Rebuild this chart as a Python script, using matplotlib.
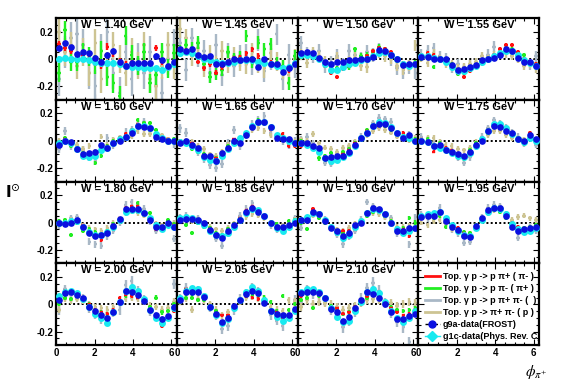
import numpy as np
import matplotlib
matplotlib.use('Agg')
from matplotlib import pyplot as plt
from matplotlib.lines import Line2D
from matplotlib.ticker import MultipleLocator

plt.rcParams['font.family'] = ['Liberation Sans', 'DejaVu Sans']

W_values = [1.40, 1.45, 1.50, 1.55, 1.60, 1.65, 1.70, 1.75,
            1.80, 1.85, 1.90, 1.95, 2.00, 2.05, 2.10]
n_bins = 20
phi = (np.arange(n_bins) + 0.5) * 2 * np.pi / n_bins  # bin centres

# g9a-data (FROST), blue
g9a = [
    [0.08, 0.12, 0.085, 0.035, 0.05, 0.04, 0.01, -0.02, 0.03, 0.06, -0.02, -0.05, -0.03, -0.03, -0.03, -0.03, 0.02, -0.01, -0.055, -0.02],
    [0.07, 0.055, 0.07, 0.03, 0.015, 0.02, -0.04, -0.035, -0.02, 0.0, -0.01, 0.0, 0.0, -0.06, 0.0, -0.035, -0.035, -0.095, -0.07, -0.04],
    [0.045, 0.05, 0.045, 0.007, -0.02, -0.035, -0.02, -0.02, -0.01, -0.01, 0.0, 0.0, 0.015, 0.065, 0.055, 0.03, 0.0, -0.045, -0.04, -0.04],
    [0.015, 0.015, 0.0, 0.0, 0.0, -0.045, -0.08, -0.075, -0.06, -0.045, -0.01, 0.0, 0.005, 0.03, 0.075, 0.055, 0.007, -0.02, -0.02, -0.05],
    [-0.03, 0.0, -0.01, -0.06, -0.1, -0.09, -0.08, -0.03, -0.055, -0.02, 0.0, 0.025, 0.055, 0.11, 0.1, 0.09, 0.03, 0.015, 0.0, 0.0],
    [-0.015, 0.0, -0.03, -0.055, -0.11, -0.115, -0.15, -0.09, -0.055, 0.0, -0.015, 0.045, 0.1, 0.14, 0.135, 0.1, 0.02, 0.015, 0.015, -0.02],
    [-0.02, -0.02, -0.035, -0.055, -0.125, -0.12, -0.115, -0.11, -0.085, -0.03, 0.02, 0.055, 0.105, 0.12, 0.125, 0.095, 0.06, 0.02, 0.04, 0.0],
    [0.0, -0.01, -0.04, -0.03, -0.065, -0.08, -0.1, -0.115, -0.08, -0.03, 0.0, 0.07, 0.11, 0.1, 0.075, 0.055, 0.01, 0.0, 0.04, 0.01],
    [0.0, -0.01, 0.0, 0.015, -0.03, -0.075, -0.1, -0.09, -0.075, -0.025, 0.025, 0.1, 0.1, 0.1, 0.07, 0.02, -0.03, -0.035, 0.0, -0.03],
    [0.02, 0.025, 0.025, 0.02, 0.0, -0.055, -0.09, -0.11, -0.06, -0.015, 0.02, 0.08, 0.11, 0.08, 0.045, 0.0, -0.035, -0.035, -0.015, 0.0],
    [0.02, 0.02, 0.08, 0.065, 0.01, -0.04, -0.065, -0.1, -0.075, -0.015, 0.0, 0.07, 0.11, 0.1, 0.065, 0.0, -0.065, -0.06, -0.04, -0.04],
    [0.04, 0.045, 0.045, 0.08, 0.01, -0.03, -0.055, -0.1, -0.105, -0.025, 0.03, 0.09, 0.11, 0.105, 0.045, -0.035, -0.065, -0.045, -0.04, -0.035],
    [0.03, 0.08, 0.09, 0.07, 0.05, -0.02, -0.05, -0.075, -0.1, -0.055, 0.02, 0.1, 0.09, 0.07, 0.025, -0.045, -0.075, -0.11, -0.085, -0.02],
    [0.035, 0.09, 0.09, 0.09, 0.055, -0.02, -0.07, -0.13, -0.1, -0.01, 0.035, 0.075, 0.1, 0.08, 0.01, -0.05, -0.07, -0.075, -0.08, -0.035],
    [0.08, 0.09, 0.09, 0.085, 0.045, -0.035, -0.06, -0.12, -0.095, -0.025, 0.03, 0.09, 0.075, 0.045, 0.0, -0.06, -0.11, -0.11, -0.085, -0.07],
]

# g1c-data, cyan
g1c = [
    [0.0, 0.01, 0.0, 0.0, 0.0, -0.01, -0.02, -0.03, -0.03, -0.03, -0.04, -0.05, -0.06, -0.06, -0.07, -0.07, -0.07, -0.08, -0.06, -0.04],
    [0.04, 0.05, 0.04, 0.02, 0.0, -0.01, -0.02, -0.03, -0.03, -0.02, -0.01, -0.01, -0.01, -0.02, -0.03, -0.04, -0.05, -0.07, -0.06, -0.03],
    [0.03, 0.03, 0.02, 0.0, -0.04, -0.08, -0.08, -0.06, -0.04, -0.03, -0.01, 0.0, 0.02, 0.04, 0.05, 0.03, 0.0, -0.04, -0.05, -0.04],
    [0.02, 0.02, 0.01, 0.0, -0.02, -0.06, -0.09, -0.09, -0.07, -0.05, -0.02, 0.0, 0.02, 0.04, 0.06, 0.06, 0.03, -0.01, -0.03, -0.05],
    [-0.02, 0.0, -0.02, -0.06, -0.11, -0.12, -0.11, -0.07, -0.05, -0.02, 0.01, 0.03, 0.07, 0.11, 0.11, 0.09, 0.05, 0.02, 0.0, 0.0],
    [-0.01, -0.02, -0.04, -0.07, -0.12, -0.14, -0.15, -0.11, -0.06, -0.02, 0.02, 0.06, 0.11, 0.14, 0.14, 0.10, 0.04, 0.02, 0.0, -0.02],
    [-0.02, -0.03, -0.05, -0.08, -0.13, -0.15, -0.14, -0.12, -0.09, -0.04, 0.02, 0.06, 0.11, 0.14, 0.13, 0.10, 0.06, 0.03, 0.02, 0.0],
    [0.0, -0.01, -0.04, -0.05, -0.07, -0.09, -0.11, -0.12, -0.09, -0.04, 0.01, 0.07, 0.12, 0.12, 0.09, 0.05, 0.01, -0.01, 0.02, 0.0],
    [0.0, 0.0, 0.01, 0.01, -0.03, -0.07, -0.09, -0.09, -0.07, -0.03, 0.02, 0.08, 0.09, 0.09, 0.07, 0.03, -0.02, -0.05, -0.02, -0.03],
    [0.03, 0.04, 0.03, 0.01, -0.02, -0.06, -0.09, -0.10, -0.08, -0.03, 0.02, 0.07, 0.10, 0.09, 0.05, 0.0, -0.04, -0.06, -0.03, 0.01],
    [0.02, 0.04, 0.07, 0.06, 0.02, -0.03, -0.07, -0.11, -0.09, -0.03, 0.01, 0.07, 0.10, 0.09, 0.06, 0.0, -0.05, -0.08, -0.06, -0.04],
    [0.05, 0.06, 0.07, 0.08, 0.03, -0.02, -0.06, -0.09, -0.10, -0.04, 0.02, 0.08, 0.11, 0.10, 0.06, -0.01, -0.05, -0.07, -0.06, -0.04],
    [0.06, 0.09, 0.10, 0.08, 0.04, -0.02, -0.07, -0.10, -0.14, -0.06, 0.02, 0.10, 0.13, 0.10, 0.04, -0.04, -0.10, -0.14, -0.10, -0.03],
    [0.05, 0.10, 0.12, 0.11, 0.06, -0.02, -0.08, -0.14, -0.11, -0.03, 0.03, 0.09, 0.13, 0.10, 0.03, -0.05, -0.09, -0.12, -0.10, -0.05],
    [0.09, 0.11, 0.11, 0.09, 0.05, -0.03, -0.09, -0.13, -0.12, -0.05, 0.02, 0.09, 0.11, 0.08, 0.02, -0.05, -0.10, -0.13, -0.10, -0.05],
]

# Top. gamma p -> p pi+ (pi-), red
top_pip = [
    [0.11, 0.08, 0.06, 0.02, 0.03, 0.0, -0.03, -0.05, 0.09, 0.04, -0.02, -0.04, -0.03, -0.04, -0.03, -0.04, 0.08, -0.02, -0.06, -0.03],
    [0.05, 0.06, 0.04, -0.02, -0.07, -0.04, -0.10, -0.06, -0.03, 0.0, 0.01, 0.04, 0.07, 0.02, -0.01, -0.03, -0.05, -0.09, -0.08, -0.03],
    [0.03, 0.03, 0.02, -0.01, -0.05, -0.10, -0.13, -0.07, -0.05, -0.02, 0.0, 0.02, 0.06, 0.08, 0.07, 0.05, 0.0, -0.03, -0.04, -0.03],
    [0.03, 0.04, 0.03, 0.01, -0.02, -0.05, -0.10, -0.13, -0.09, -0.06, -0.02, 0.01, 0.03, 0.07, 0.10, 0.10, 0.05, 0.0, -0.03, -0.04],
    [-0.02, 0.01, -0.03, -0.07, -0.10, -0.11, -0.10, -0.05, -0.04, -0.01, 0.02, 0.05, 0.08, 0.12, 0.11, 0.09, 0.04, 0.02, 0.01, 0.0],
    [0.0, -0.01, -0.02, -0.05, -0.12, -0.12, -0.13, -0.10, -0.05, 0.01, 0.0, 0.05, 0.11, 0.13, 0.12, 0.08, 0.03, 0.05, -0.04, -0.04],
    [-0.04, -0.04, -0.06, -0.05, -0.12, -0.14, -0.12, -0.10, -0.07, -0.02, 0.01, 0.07, 0.10, 0.11, 0.11, 0.10, 0.05, 0.06, 0.03, -0.01],
    [0.01, 0.0, -0.08, -0.03, -0.05, -0.07, -0.10, -0.12, -0.08, -0.03, 0.01, 0.08, 0.11, 0.10, 0.08, 0.05, 0.01, -0.01, 0.06, 0.0],
    [0.0, -0.02, 0.01, 0.02, -0.02, -0.08, -0.09, -0.13, -0.07, -0.02, 0.03, 0.11, 0.12, 0.12, 0.06, 0.01, -0.05, -0.04, 0.0, -0.02],
    [0.02, 0.03, 0.02, 0.02, -0.01, -0.05, -0.09, -0.10, -0.06, -0.04, 0.03, 0.09, 0.12, 0.09, 0.05, 0.0, -0.04, -0.03, -0.02, 0.0],
    [0.01, 0.03, 0.10, 0.07, 0.01, -0.05, -0.08, -0.06, -0.06, -0.02, 0.01, 0.06, 0.09, 0.10, 0.05, 0.0, -0.06, -0.05, -0.10, -0.04],
    [0.04, 0.05, 0.06, 0.07, 0.03, -0.02, -0.04, -0.08, -0.09, -0.03, 0.02, 0.08, 0.10, 0.09, 0.05, 0.0, -0.03, -0.07, -0.05, -0.04],
    [0.04, 0.10, 0.10, 0.08, 0.05, 0.0, -0.04, -0.06, -0.07, -0.04, 0.05, 0.07, 0.06, 0.05, 0.02, -0.05, -0.09, -0.16, -0.10, -0.05],
    [0.05, 0.11, 0.10, 0.08, 0.05, -0.01, -0.07, -0.08, -0.08, -0.02, 0.03, 0.06, 0.05, 0.04, 0.0, -0.05, -0.06, -0.10, -0.11, -0.03],
    [0.06, 0.11, 0.10, 0.09, 0.04, -0.02, -0.03, -0.07, -0.06, -0.02, 0.02, 0.06, 0.08, 0.06, 0.02, -0.03, -0.06, -0.08, -0.07, -0.04],
]

# Top. gamma p -> p pi- (pi+), green
top_pim = [
    [-0.10, 0.21, -0.02, -0.02, 0.05, 0.02, -0.04, 0.06, -0.13, -0.18, -0.27, 0.17, 0.03, -0.05, 0.05, -0.18, -0.12, 0.05, -0.07, 0.04],
    [0.06, 0.10, 0.08, 0.12, -0.04, -0.13, -0.11, -0.08, 0.05, 0.0, 0.01, 0.17, -0.02, 0.12, 0.07, 0.11, -0.03, -0.05, -0.18, 0.02],
    [0.02, 0.04, 0.03, 0.0, -0.03, -0.06, -0.07, -0.05, -0.06, 0.07, 0.02, 0.03, 0.05, 0.09, 0.07, 0.02, -0.01, -0.05, -0.04, -0.03],
    [0.0, 0.03, -0.06, 0.01, -0.03, -0.04, -0.11, -0.10, -0.06, -0.05, -0.02, 0.0, 0.02, 0.04, 0.08, 0.07, 0.04, 0.03, -0.02, -0.04],
    [-0.03, 0.02, -0.04, -0.05, -0.09, -0.12, -0.16, -0.11, -0.04, 0.0, 0.02, 0.04, 0.06, 0.15, 0.13, 0.13, 0.08, 0.02, -0.01, 0.01],
    [0.0, -0.02, -0.06, -0.08, -0.10, -0.14, -0.13, -0.12, -0.04, -0.01, 0.0, 0.05, 0.10, 0.15, 0.14, 0.10, 0.02, 0.03, 0.01, -0.03],
    [0.0, -0.02, -0.04, -0.13, -0.11, -0.09, -0.11, -0.08, -0.06, -0.02, 0.02, 0.08, 0.10, 0.12, 0.11, 0.08, 0.05, 0.04, 0.02, 0.01],
    [0.0, 0.01, -0.03, -0.02, -0.06, -0.08, -0.10, -0.13, -0.07, -0.02, 0.0, 0.06, 0.12, 0.12, 0.09, 0.05, 0.02, -0.02, 0.03, 0.01],
    [0.01, 0.02, -0.09, 0.0, -0.06, -0.05, -0.07, -0.09, -0.06, -0.01, 0.02, 0.09, 0.11, 0.14, 0.07, 0.07, -0.02, -0.03, 0.02, -0.01],
    [0.01, -0.02, -0.08, 0.0, -0.03, -0.04, -0.08, -0.09, -0.05, -0.01, 0.02, 0.06, 0.09, 0.08, 0.04, 0.0, -0.01, -0.03, 0.01, 0.02],
    [0.0, -0.05, 0.06, 0.03, 0.0, -0.05, -0.07, -0.08, -0.06, -0.02, 0.01, 0.05, 0.08, 0.09, 0.05, 0.01, -0.05, -0.04, 0.03, 0.0],
    [0.03, 0.04, 0.03, 0.05, -0.03, -0.03, -0.05, -0.07, -0.08, -0.02, 0.02, 0.07, 0.09, 0.08, 0.03, -0.01, -0.04, -0.04, -0.03, -0.02],
    [0.0, 0.05, 0.04, 0.06, 0.03, 0.0, -0.04, -0.06, -0.07, -0.05, 0.01, 0.06, 0.08, 0.06, 0.03, -0.02, 0.05, -0.06, -0.05, 0.0],
    [0.02, 0.05, 0.05, 0.03, 0.03, -0.01, -0.05, -0.14, -0.09, -0.02, 0.03, 0.06, 0.07, 0.06, 0.05, 0.02, -0.05, 0.06, -0.04, 0.0],
    [0.03, 0.05, -0.03, 0.06, 0.04, -0.01, -0.04, -0.07, -0.06, -0.02, 0.02, 0.05, 0.07, 0.05, 0.02, -0.02, -0.04, -0.05, -0.04, -0.03],
]

# Top. gamma p -> p pi+ pi- ( ), grey
top_ppp = [
    [-0.15, 0.05, 0.15, 0.18, 0.10, -0.10, -0.20, 0.06, 0.20, -0.10, -0.25, 0.05, -0.15, 0.0, -0.10, 0.05, -0.20, -0.25, 0.0, 0.10],
    [0.12, -0.08, 0.15, 0.02, 0.06, -0.10, 0.10, -0.12, 0.04, -0.05, 0.02, 0.03, -0.04, 0.14, -0.09, 0.0, 0.18, -0.15, 0.03, -0.06],
    [0.12, 0.04, 0.02, 0.06, -0.05, -0.03, 0.02, -0.04, 0.06, 0.03, 0.0, 0.05, 0.03, 0.07, 0.04, 0.0, -0.07, -0.10, -0.06, -0.10],
    [0.03, 0.06, 0.08, 0.02, 0.0, -0.06, -0.04, -0.08, -0.05, -0.03, -0.01, 0.03, 0.09, 0.05, 0.07, 0.04, 0.02, 0.0, -0.04, 0.02],
    [-0.06, 0.07, -0.04, -0.05, -0.07, -0.12, -0.15, -0.08, 0.02, -0.03, 0.01, 0.06, 0.08, 0.12, 0.14, 0.07, 0.03, 0.02, 0.0, -0.02],
    [0.09, 0.06, -0.04, -0.08, -0.13, -0.18, -0.20, -0.17, -0.02, 0.08, -0.04, 0.04, 0.12, 0.15, 0.18, 0.06, 0.02, 0.0, -0.03, 0.0],
    [0.01, 0.03, -0.02, -0.06, -0.16, -0.17, -0.10, -0.08, -0.05, -0.02, 0.03, 0.06, 0.13, 0.17, 0.16, 0.14, 0.05, 0.02, 0.05, 0.0],
    [0.03, 0.01, -0.02, -0.05, -0.06, -0.09, -0.12, -0.16, -0.12, -0.04, 0.03, 0.09, 0.15, 0.13, 0.10, 0.06, 0.03, -0.02, 0.05, -0.03],
    [-0.02, 0.0, 0.03, 0.04, -0.04, -0.14, -0.16, -0.17, -0.10, -0.06, 0.0, 0.13, 0.15, 0.13, 0.10, 0.01, -0.06, -0.04, 0.0, -0.12],
    [0.04, 0.05, 0.02, 0.03, -0.01, -0.06, -0.12, -0.17, -0.08, -0.03, 0.05, 0.10, 0.14, 0.07, 0.04, -0.02, -0.05, -0.04, -0.01, 0.03],
    [-0.04, 0.03, 0.09, 0.06, 0.02, -0.04, -0.09, -0.16, -0.10, -0.06, 0.02, 0.15, 0.12, 0.08, 0.04, 0.03, -0.08, -0.06, -0.16, 0.04],
    [0.06, 0.03, 0.05, 0.11, 0.0, -0.05, -0.08, -0.15, -0.14, -0.04, 0.04, 0.11, 0.13, 0.12, 0.06, -0.01, -0.11, -0.05, -0.03, -0.06],
    [-0.04, 0.11, 0.07, 0.06, 0.04, -0.03, -0.07, -0.11, -0.09, -0.06, -0.04, 0.14, 0.17, 0.10, 0.03, -0.05, -0.09, -0.12, -0.08, 0.15],
    [0.04, 0.12, 0.09, 0.10, 0.05, -0.02, -0.08, -0.18, -0.16, -0.04, 0.04, 0.08, 0.12, 0.09, 0.03, -0.08, -0.12, -0.16, -0.09, 0.03],
    [0.02, 0.10, 0.08, 0.07, 0.03, -0.04, -0.07, -0.17, -0.12, -0.05, 0.04, 0.12, 0.16, 0.10, 0.01, -0.06, -0.13, -0.17, -0.28, -0.05],
]

# Top. gamma p -> pi+ pi- (p), tan
top_pp = [
    [0.20, 0.05, 0.10, -0.05, 0.05, -0.10, 0.12, -0.15, -0.05, 0.10, 0.0, -0.10, 0.05, -0.05, 0.10, -0.15, -0.20, -0.05, 0.10, -0.05],
    [0.22, 0.15, 0.02, 0.08, -0.06, 0.03, -0.05, 0.06, -0.03, 0.02, -0.02, -0.04, 0.05, -0.03, -0.07, 0.04, -0.02, -0.08, -0.12, 0.0],
    [0.03, -0.03, 0.05, 0.02, -0.02, -0.06, 0.01, -0.04, -0.02, 0.01, -0.05, -0.06, 0.03, 0.05, 0.02, 0.0, -0.05, -0.08, -0.05, 0.10],
    [0.01, -0.03, 0.04, 0.0, -0.04, -0.04, -0.07, -0.06, -0.04, -0.02, 0.02, 0.0, 0.03, 0.05, 0.04, 0.02, 0.0, -0.05, -0.04, -0.07],
    [0.0, 0.01, -0.02, -0.03, -0.06, -0.04, -0.08, 0.03, -0.03, 0.01, 0.02, 0.04, 0.03, 0.07, 0.05, 0.05, 0.03, 0.04, 0.01, 0.0],
    [-0.02, 0.0, -0.01, -0.04, -0.06, -0.10, -0.11, -0.08, -0.03, -0.02, 0.0, 0.04, 0.08, 0.09, 0.07, 0.04, 0.02, 0.01, 0.0, -0.01],
    [0.01, 0.0, 0.05, -0.02, -0.05, -0.06, -0.08, -0.05, -0.04, -0.01, 0.01, 0.04, 0.07, 0.09, 0.08, 0.06, 0.03, 0.01, 0.0, 0.02],
    [0.0, 0.02, 0.02, -0.01, -0.03, -0.04, -0.06, -0.07, -0.05, -0.01, 0.01, 0.04, 0.07, 0.07, 0.04, 0.02, 0.0, 0.01, 0.02, 0.0],
    [0.0, 0.01, 0.02, 0.01, -0.02, -0.04, -0.05, -0.06, -0.04, 0.0, 0.02, 0.07, 0.08, 0.07, 0.05, 0.02, -0.01, -0.02, 0.0, 0.0],
    [0.02, 0.03, 0.01, 0.0, 0.0, -0.03, -0.05, -0.06, -0.04, -0.01, 0.01, 0.04, 0.06, 0.05, 0.03, 0.0, -0.02, -0.02, 0.0, 0.02],
    [0.01, 0.02, 0.05, 0.04, 0.01, -0.03, -0.05, -0.06, -0.04, -0.01, 0.01, 0.05, 0.07, 0.06, 0.04, 0.01, -0.03, -0.03, -0.02, 0.0],
    [0.0, -0.02, 0.01, 0.02, -0.01, -0.05, -0.06, -0.09, -0.08, -0.02, 0.03, 0.07, 0.09, 0.08, 0.04, 0.02, 0.04, 0.05, 0.03, 0.02],
    [-0.04, 0.04, 0.03, 0.04, 0.03, 0.0, -0.02, -0.03, -0.04, -0.02, 0.01, 0.04, 0.05, 0.04, 0.02, -0.01, -0.02, -0.04, -0.03, 0.02],
    [0.02, 0.04, -0.04, 0.04, 0.03, 0.0, -0.04, -0.08, -0.06, -0.02, 0.02, 0.05, 0.06, 0.04, 0.01, -0.02, -0.04, -0.05, 0.03, 0.02],
    [-0.02, 0.03, 0.0, 0.02, 0.01, 0.0, -0.02, -0.04, -0.03, -0.01, 0.01, 0.03, 0.04, 0.03, 0.01, 0.01, -0.01, 0.0, 0.02, 0.01],
]

# typical error bar size per panel
err_red = [0.025, 0.02, 0.015, 0.015, 0.012, 0.012, 0.012, 0.012, 0.012, 0.012, 0.012, 0.012, 0.012, 0.012, 0.012]
err_green = [0.07, 0.045, 0.02, 0.015, 0.015, 0.015, 0.015, 0.015, 0.015, 0.015, 0.015, 0.015, 0.015, 0.015, 0.015]
err_grey = [0.12, 0.08, 0.05, 0.04, 0.03, 0.03, 0.025, 0.025, 0.025, 0.025, 0.025, 0.025, 0.035, 0.035, 0.04]
err_tan = [0.10, 0.07, 0.04, 0.03, 0.02, 0.02, 0.02, 0.02, 0.02, 0.02, 0.02, 0.02, 0.025, 0.025, 0.03]
err_g9a = [0.02, 0.015, 0.01, 0.01, 0.01, 0.01, 0.01, 0.01, 0.01, 0.01, 0.01, 0.01, 0.01, 0.01, 0.01]

col_red = '#ff1010'
col_green = '#22ee22'
col_grey = '#a9b8c6'
col_tan = '#cdc493'
col_blue = '#0a10e0'
col_cyan = '#18eaf0'

fig, axes = plt.subplots(4, 4, figsize=(5.67, 3.84), dpi=100, sharex=True, sharey=True)
fig.subplots_adjust(left=0.099, right=0.951, bottom=0.101, top=0.953, wspace=0, hspace=0)

xw = np.pi / n_bins * 0.6
for i, ax in enumerate(axes.flat):
    ax.set_xlim(0, 2 * np.pi)
    ax.set_ylim(-0.3, 0.3)
    for s in ax.spines.values():
        s.set_linewidth(1.6)
    ax.xaxis.set_major_locator(MultipleLocator(2))
    ax.xaxis.set_minor_locator(MultipleLocator(0.5))
    ax.yaxis.set_major_locator(MultipleLocator(0.2))
    ax.yaxis.set_minor_locator(MultipleLocator(0.05))
    ax.tick_params(which='both', direction='in', top=True, right=True,
                   labelsize=7, width=0.8, pad=2)
    ax.tick_params(which='major', length=4)
    ax.tick_params(which='minor', length=2)
    if i >= len(W_values):
        continue
    ax.axhline(0, color='k', ls=(0, (1, 1.2)), lw=1.4, zorder=1)
    ax.errorbar(phi, top_ppp[i], yerr=err_grey[i], xerr=xw, fmt='none',
                ecolor=col_grey, elinewidth=1.7, zorder=2)
    ax.errorbar(phi, top_pp[i], yerr=err_tan[i], xerr=xw, fmt='none',
                ecolor=col_tan, elinewidth=1.7, zorder=2)
    ax.errorbar(phi, top_pim[i], yerr=err_green[i], xerr=xw, fmt='none',
                ecolor=col_green, elinewidth=1.7, zorder=3)
    ax.errorbar(phi, top_pip[i], yerr=err_red[i], xerr=xw, fmt='none',
                ecolor=col_red, elinewidth=1.7, zorder=3)
    ax.errorbar(phi, g1c[i], yerr=err_g9a[i], xerr=xw, fmt='o', color=col_cyan,
                ms=5, mew=0, elinewidth=1.5, zorder=4)
    ax.errorbar(phi, g9a[i], yerr=err_g9a[i], fmt='o', color=col_blue,
                ms=4.8, mew=0, elinewidth=1, zorder=5)
    ax.text(0.5, 0.975, 'W = %.2f GeV' % W_values[i], transform=ax.transAxes,
            ha='center', va='top', fontsize=8, fontweight='bold', zorder=6)

for ax in axes[:, 0]:
    ax.set_yticks([-0.2, 0, 0.2])
    ax.set_yticklabels(['-0.2', '0', '0.2'], fontweight='bold')
for ax in axes[-1, :]:
    ax.set_xticks([0, 2, 4, 6])
    ax.set_xticklabels(['0', '2', '4', '6'], fontweight='bold')

# legend in the empty last panel
leg_ax = axes[-1, -1]
handles = [
    Line2D([], [], color=col_red, lw=2),
    Line2D([], [], color=col_green, lw=2),
    Line2D([], [], color=col_grey, lw=2),
    Line2D([], [], color=col_tan, lw=2),
    Line2D([], [], color='k', lw=1, ls='--', marker='o', ms=5, mfc=col_blue, mec=col_blue),
    Line2D([], [], color=col_cyan, lw=1, marker='D', ms=5, mfc=col_cyan, mec=col_cyan),
]
labels = ['Top. γ p -> p π+ ( π- )', 'Top. γ p -> p π- ( π+ )',
          'Top. γ p -> p π+ π- (  )', 'Top. γ p -> π+ π- ( p )',
          'g9a-data(FROST)', 'g1c-data(Phys. Rev. C)']
leg = leg_ax.legend(handles, labels, loc='upper left', bbox_to_anchor=(0.03, 0.93),
                    frameon=False, handlelength=1.7, handletextpad=0.3,
                    labelspacing=0.33, borderaxespad=0.2, borderpad=0.1,
                    prop={'size': 6.5, 'weight': 'bold'})
for t in leg.get_texts():
    t.set_clip_path(leg_ax.patch)

fig.text(0.022, 0.5, r'$\mathbf{I}^{\odot}$', fontsize=11, ha='center', va='center')
fig.text(0.945, 0.03, r'$\phi_{\pi^{+}}$', fontsize=11, ha='center', va='center',
         math_fontfamily='stix')

fig.savefig('out.png', dpi=100)
